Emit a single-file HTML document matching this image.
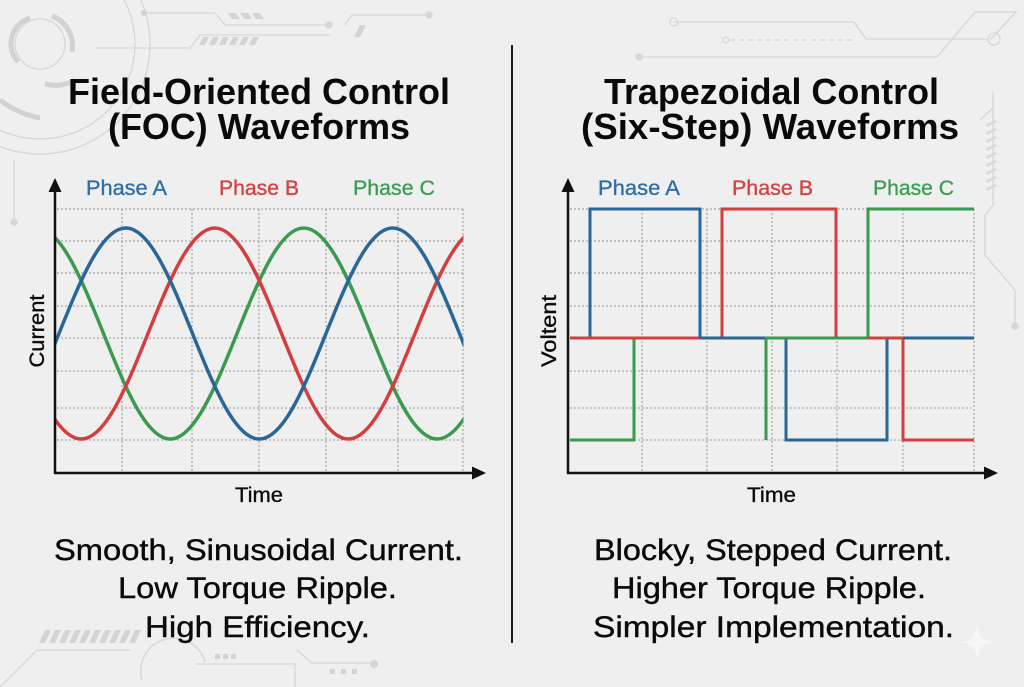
<!DOCTYPE html>
<html>
<head>
<meta charset="utf-8">
<style>
  html,body{margin:0;padding:0;background:#efefef;}
  body{width:1024px;height:687px;overflow:hidden;}
  svg{display:block;}
  text{font-family:"Liberation Sans", Arial, sans-serif;}
</style>
</head>
<body>
<svg width="1024" height="687" viewBox="0 0 1024 687" xmlns="http://www.w3.org/2000/svg">
  <defs>
    <clipPath id="lc"><rect x="56" y="150" width="407.5" height="322"/></clipPath>
  </defs>
  <rect x="0" y="0" width="1024" height="687" fill="#efefef"/>

  <!-- background decorations -->
  <g fill="none" stroke="#d6d6d6" stroke-width="1.3">
    <circle cx="40" cy="44" r="25"/>
    <circle cx="40" cy="44" r="95"/>
    <circle cx="40" cy="44" r="110"/>
    <path d="M145,13 H215 L225,25 H328"/>
    <circle cx="144" cy="13" r="2.5" fill="#d6d6d6"/>
    <circle cx="329" cy="25" r="3" fill="#d6d6d6"/>
    <path d="M345,25 L352,15 H428"/>
    <circle cx="429" cy="15" r="3" fill="#d6d6d6"/>
    <path d="M95,48 H190 L200,35 H330"/>
    <path d="M674,22 H854 L866,39 H988"/>
    <circle cx="674" cy="22" r="4"/>
    <circle cx="994" cy="39" r="6"/>
    <path d="M730,40 H852" stroke-dasharray="5 4"/>
    <circle cx="726" cy="40" r="3"/>
    <path d="M639,57 H937 L975,12 H1016 L990,40"/>
    <circle cx="639" cy="57" r="3" fill="#d6d6d6"/>
    <path d="M993,92 V205 L985,215 V255 L1015,290 V325"/>
    <path d="M980,120 L993,108"/>
    <circle cx="1015" cy="326" r="3" fill="#d6d6d6"/>
    <path d="M14,160 V220"/>
    <circle cx="14" cy="222" r="3" fill="#d6d6d6"/>
    <path d="M0,687 L37,650 H130"/>
    <path d="M142,680 A32,32 0 0 1 205,662"/>
    <path d="M195,664 H295 V687"/>
    <path d="M297,650 L312,663 H372"/>
    <circle cx="374" cy="664" r="3.5" fill="#d6d6d6"/>
  </g>
  <g fill="none" stroke="#d2d2d2" stroke-width="5">
    <path d="M18,62 A27,27 0 0 1 30,18"/>
    <path d="M52,16 A32,32 0 0 1 72,52"/>
    <path d="M0,100 A95,95 0 0 0 40,118"/>
    <path d="M75,80 A40,40 0 0 1 45,84"/>
  </g>
  <g fill="none" stroke="#d8d8d8" stroke-width="2.5">
    <path d="M986,126 L996,121 M986,134 L996,129 M986,142 L996,137 M986,150 L996,145 M986,158 L996,153 M986,166 L996,161 M986,174 L996,169 M986,182 L996,177 M986,190 L996,185"/>
  </g>
  <g fill="#d4d4d4">
    <polygon points="228,13 236,13 240,19 232,19"/>
    <polygon points="240,13 248,13 252,19 244,19"/>
    <polygon points="252,13 260,13 264,19 256,19"/>
    <polygon points="360,25 366,25 360,37 354,37"/>
    <polygon points="203,37 209,37 205,45 199,45"/>
    <polygon points="213,37 219,37 215,45 209,45"/>
    <polygon points="223,37 229,37 225,45 219,45"/>
    <polygon points="233,37 239,37 235,45 229,45"/>
    <polygon points="243,37 249,37 245,45 239,45"/>
    <polygon points="253,37 259,37 255,45 249,45"/>
    <polygon points="45,630 51,630 45,643 39,643"/>
    <polygon points="55,630 61,630 55,643 49,643"/>
    <polygon points="65,630 71,630 65,643 59,643"/>
    <polygon points="75,630 81,630 75,643 69,643"/>
    <polygon points="85,630 91,630 85,643 79,643"/>
    <polygon points="95,630 101,630 95,643 89,643"/>
    <polygon points="105,630 111,630 105,643 99,643"/>
    <polygon points="115,630 121,630 115,643 109,643"/>
    <polygon points="125,630 131,630 125,643 119,643"/>
    <polygon points="135,630 141,630 135,643 129,643"/>
    <rect x="215" y="654" width="5" height="5"/>
    <rect x="223" y="654" width="5" height="5"/>
    <rect x="231" y="654" width="5" height="5"/>
    <rect x="330" y="669" width="5" height="5"/>
    <rect x="341" y="669" width="5" height="5"/>
    <rect x="352" y="669" width="5" height="5"/>
  </g>
  <!-- sparkle -->
  <path d="M977,624 C979,637 981,640 994,642 C981,644 979,647 977,660 C975,647 973,644 960,642 C973,640 975,637 977,624 Z" fill="#f7f7f7"/>

  <!-- divider -->
  <line x1="512" y1="45" x2="512" y2="643" stroke="#1a1a1a" stroke-width="2"/>

  <!-- Titles -->
  <g font-weight="bold" font-size="36" fill="#0a0a0a">
    <text x="68" y="104" textLength="382" lengthAdjust="spacingAndGlyphs">Field-Oriented Control</text>
    <text x="108" y="139" textLength="302" lengthAdjust="spacingAndGlyphs">(FOC) Waveforms</text>
    <text x="604" y="104" textLength="335" lengthAdjust="spacingAndGlyphs">Trapezoidal Control</text>
    <text x="581" y="139" textLength="378" lengthAdjust="spacingAndGlyphs">(Six-Step) Waveforms</text>
  </g>

  <!-- LEFT CHART -->
  <g stroke="#9a9a9a" stroke-width="1" stroke-dasharray="2 2" fill="none">
    <path d="M57,209 H463 M57,241 H463 M57,273 H463 M57,306 H463 M57,338 H463 M57,371 H463 M57,408 H463 M57,440 H463"/>
    <path d="M122,209 V471 M192,209 V471 M259,209 V471 M326,209 V471 M398,209 V471 M463,209 V471"/>
  </g>
  <g clip-path="url(#lc)" fill="none" stroke-width="3.5" stroke-linecap="round">
    <path stroke="#3a9a4f" d="M-163.5,333.5 c21.77,54.05 42.59,105.5 66.75,105.5 c24.16,0 44.98,-51.45 66.75,-105.5 c21.77,-54.05 42.59,-105.5 66.75,-105.5 c24.16,0 44.98,51.45 66.75,105.5 c21.77,54.05 42.59,105.5 66.75,105.5 c24.16,0 44.98,-51.45 66.75,-105.5 c21.77,-54.05 42.59,-105.5 66.75,-105.5 c24.16,0 44.98,51.45 66.75,105.5 c21.77,54.05 42.59,105.5 66.75,105.5 c24.16,0 44.98,-51.45 66.75,-105.5 c21.77,-54.05 42.59,-105.5 66.75,-105.5 c24.16,0 44.98,51.45 66.75,105.5"/>
    <path stroke="#d33e3e" d="M14.5,333.5 c21.77,54.05 42.59,105.5 66.75,105.5 c24.16,0 44.98,-51.45 66.75,-105.5 c21.77,-54.05 42.59,-105.5 66.75,-105.5 c24.16,0 44.98,51.45 66.75,105.5 c21.77,54.05 42.59,105.5 66.75,105.5 c24.16,0 44.98,-51.45 66.75,-105.5 c21.77,-54.05 42.59,-105.5 66.75,-105.5 c24.16,0 44.98,51.45 66.75,105.5"/>
    <path stroke="#2a6698" d="M-74.5,333.5 c21.77,54.05 42.59,105.5 66.75,105.5 c24.16,0 44.98,-51.45 66.75,-105.5 c21.77,-54.05 42.59,-105.5 66.75,-105.5 c24.16,0 44.98,51.45 66.75,105.5 c21.77,54.05 42.59,105.5 66.75,105.5 c24.16,0 44.98,-51.45 66.75,-105.5 c21.77,-54.05 42.59,-105.5 66.75,-105.5 c24.16,0 44.98,51.45 66.75,105.5 c21.77,54.05 42.59,105.5 66.75,105.5 c24.16,0 44.98,-51.45 66.75,-105.5 c21.77,-54.05 42.59,-105.5 66.75,-105.5 c24.16,0 44.98,51.45 66.75,105.5"/>
  </g>
  <!-- left axes -->
  <g stroke="#111" stroke-width="2.5" fill="none">
    <line x1="55" y1="188" x2="55" y2="474"/>
    <line x1="54" y1="473" x2="475" y2="473"/>
  </g>
  <polygon points="55,178 48.5,192 61.5,192" fill="#111"/>
  <polygon points="486,473 472,466.5 472,479.5" fill="#111"/>
  <g font-size="21" stroke-width="0.35">
    <text x="86" y="195" fill="#2f6ea6" stroke="#2f6ea6" textLength="81" lengthAdjust="spacingAndGlyphs">Phase A</text>
    <text x="219" y="195" fill="#d24242" stroke="#d24242" textLength="80" lengthAdjust="spacingAndGlyphs">Phase B</text>
    <text x="353" y="195" fill="#3c9e52" stroke="#3c9e52" textLength="82" lengthAdjust="spacingAndGlyphs">Phase C</text>
    <text x="235" y="502" fill="#0a0a0a" stroke="#0a0a0a" textLength="48" lengthAdjust="spacingAndGlyphs">Time</text>
    <text transform="translate(44,331) rotate(-90)" text-anchor="middle" fill="#0a0a0a" stroke="#0a0a0a" textLength="73" lengthAdjust="spacingAndGlyphs">Current</text>
  </g>

  <!-- RIGHT CHART -->
  <g stroke="#9a9a9a" stroke-width="1" stroke-dasharray="2 2" fill="none">
    <path d="M570,209 H974 M570,241 H974 M570,273 H974 M570,306 H974 M570,338 H974 M570,371 H974 M570,408 H974 M570,440 H974"/>
    <path d="M642,209 V471 M707,209 V471 M772,209 V471 M837,209 V471 M903,209 V471 M974,209 V471"/>
  </g>
  <g fill="none" stroke-width="3" stroke-linejoin="miter" stroke-linecap="butt">
    <path stroke="#3a9a4f" d="M570,440 H634 V338 H868 V209 H974"/>
    <path stroke="#3a9a4f" d="M766,338 V440"/>
    <path stroke="#2a6698" d="M570,338 H590 V209 H700 V338 H786 V440 H887 V338 H974"/>
    <path stroke="#d33e3e" d="M570,338 H722 V209 H836 V338 H903 V440 H974"/>
    <!-- overlays on shared zero line -->
    <path stroke="#d33e3e" d="M570,338 H699"/>
    <path stroke="#2a6698" d="M699,338 H765"/>
    <path stroke="#3a9a4f" d="M765,338 H868"/>
    <path stroke="#d33e3e" d="M868,338 H903"/>
    <path stroke="#2a6698" d="M903,338 H974"/>
  </g>
  <g stroke="#111" stroke-width="2.5" fill="none">
    <line x1="568" y1="188" x2="568" y2="474"/>
    <line x1="567" y1="473" x2="987" y2="473"/>
  </g>
  <polygon points="568,178 561.5,192 574.5,192" fill="#111"/>
  <polygon points="998,473 984,466.5 984,479.5" fill="#111"/>
  <g font-size="21" stroke-width="0.35">
    <text x="598" y="195" fill="#2f6ea6" stroke="#2f6ea6" textLength="82" lengthAdjust="spacingAndGlyphs">Phase A</text>
    <text x="732" y="195" fill="#d24242" stroke="#d24242" textLength="81" lengthAdjust="spacingAndGlyphs">Phase B</text>
    <text x="873" y="195" fill="#3c9e52" stroke="#3c9e52" textLength="81" lengthAdjust="spacingAndGlyphs">Phase C</text>
    <text x="747" y="502" fill="#0a0a0a" stroke="#0a0a0a" textLength="49" lengthAdjust="spacingAndGlyphs">Time</text>
    <text transform="translate(556,331) rotate(-90)" text-anchor="middle" fill="#0a0a0a" stroke="#0a0a0a" textLength="72" lengthAdjust="spacingAndGlyphs">Voltent</text>
  </g>

  <!-- Bottom captions -->
  <g font-size="30" fill="#0a0a0a" stroke="#0a0a0a" stroke-width="0.4">
    <text x="54" y="560" textLength="409" lengthAdjust="spacingAndGlyphs">Smooth, Sinusoidal Current.</text>
    <text x="118" y="598" textLength="279" lengthAdjust="spacingAndGlyphs">Low Torque Ripple.</text>
    <text x="145" y="637" textLength="225" lengthAdjust="spacingAndGlyphs">High Efficiency.</text>
    <text x="594" y="560" textLength="358" lengthAdjust="spacingAndGlyphs">Blocky, Stepped Current.</text>
    <text x="612" y="598" textLength="314" lengthAdjust="spacingAndGlyphs">Higher Torque Ripple.</text>
    <text x="593" y="637" textLength="361" lengthAdjust="spacingAndGlyphs">Simpler Implementation.</text>
  </g>
</svg>
</body>
</html>
